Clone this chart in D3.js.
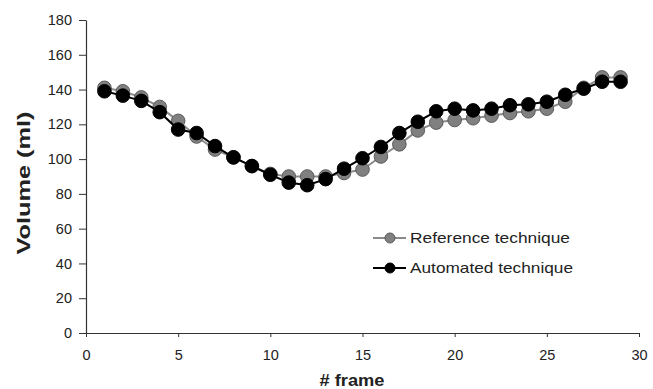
<!DOCTYPE html>
<html>
<head>
<meta charset="utf-8">
<script src="https://cdn.jsdelivr.net/npm/d3@7"></script>
<style>
  body { margin: 0; background: #fff; }
  svg { font-family: "Liberation Sans", Arial, sans-serif; }
</style>
</head>
<body>
<svg></svg>
<script>
const frames = d3.range(1, 30);
const referenceVol = [141, 139, 135.5, 130, 122, 113, 105.5, 101, 96, 91.5, 90, 90, 90, 92, 94, 101.5, 108.5, 116.5, 121, 122.5, 123.5, 125, 126.5, 127.5, 129, 133, 141, 147, 147];
const automatedVol = [139, 136.5, 133.5, 127, 117, 115, 107.5, 101, 96, 91, 86.5, 85, 88.5, 94.5, 100.5, 107, 115, 121.5, 127.5, 129, 128, 129, 131, 131.5, 133, 137, 140.5, 144.5, 144.5];
const xTicks = [0, 5, 10, 15, 20, 25, 30];
const yTicks = [0, 20, 40, 60, 80, 100, 120, 140, 160, 180];
const seriesNames = ['Reference technique', 'Automated technique'];

const width = 653, height = 389;
const svg = d3.select('svg').attr('width', width).attr('height', height);

const x = d3.scaleLinear().domain([0, 30]).range([86, 639]);
const y = d3.scaleLinear().domain([0, 180]).range([333, 20]);

// axes
const xAxis = svg.append('g')
    .attr('transform', `translate(0, ${y(0)})`)
    .call(d3.axisBottom(x).tickValues(xTicks).tickSize(4).tickPadding(16).tickSizeOuter(0));
const yAxis = svg.append('g')
    .attr('transform', `translate(${x(0)}, 0)`)
    .call(d3.axisLeft(y).tickValues(yTicks).tickSize(7).tickPadding(7).tickSizeOuter(0));

[xAxis, yAxis].forEach(a => {
    a.select('.domain').attr('stroke', '#333').attr('stroke-width', 1.2);
    a.selectAll('.tick line').attr('stroke', '#333');
    a.selectAll('.tick text').attr('fill', '#222').style('font-size', '14.5px');
});
xAxis.selectAll('.tick text').attr('dy', '0.5em');

svg.append('text')
    .attr('x', 352).attr('y', 386)
    .attr('text-anchor', 'middle')
    .attr('textLength', 65).attr('lengthAdjust', 'spacingAndGlyphs')
    .style('font-size', '16.5px').style('font-weight', 'bold').attr('fill', '#222')
    .text('# frame');

svg.append('text')
    .attr('transform', `translate(30, 183) rotate(-90)`)
    .attr('text-anchor', 'middle')
    .attr('textLength', 143).attr('lengthAdjust', 'spacingAndGlyphs')
    .style('font-size', '17.5px').style('font-weight', 'bold').attr('fill', '#222')
    .text('Volume (ml)');

const series = [
    { name: seriesNames[0], values: referenceVol, line: '#8a8a8a', fill: '#808080', stroke: '#5a5a5a', len: 160 },
    { name: seriesNames[1], values: automatedVol, line: '#000', fill: '#000', stroke: '#000', len: 163 }
];

const line = d3.line().x((d, i) => x(frames[i])).y(d => y(d));

series.forEach(s => {
    const g = svg.append('g');
    g.append('path')
        .attr('d', line(s.values))
        .attr('fill', 'none')
        .attr('stroke', s.line)
        .attr('stroke-width', 2);
    g.selectAll('circle').data(s.values).enter()
        .append('circle')
        .attr('cx', (d, i) => x(frames[i]))
        .attr('cy', d => y(d))
        .attr('r', 6.8)
        .attr('fill', s.fill)
        .attr('stroke', s.stroke)
        .attr('stroke-width', 1);
});

// legend
const legend = svg.append('g').attr('transform', 'translate(373, 238)');
series.forEach((s, i) => {
    const row = legend.append('g').attr('transform', `translate(0, ${i * 30})`);
    row.append('line').attr('x1', 0).attr('x2', 33).attr('y1', 0).attr('y2', 0)
        .attr('stroke', s.line).attr('stroke-width', 2);
    row.append('circle').attr('cx', 17).attr('cy', 0).attr('r', 5)
        .attr('fill', s.fill).attr('stroke', s.stroke);
    row.append('text').attr('x', 37).attr('y', 0).attr('dy', '0.36em')
        .attr('textLength', s.len).attr('lengthAdjust', 'spacingAndGlyphs')
        .style('font-size', '15px').attr('fill', '#222')
        .text(s.name);
});
</script>
</body>
</html>
